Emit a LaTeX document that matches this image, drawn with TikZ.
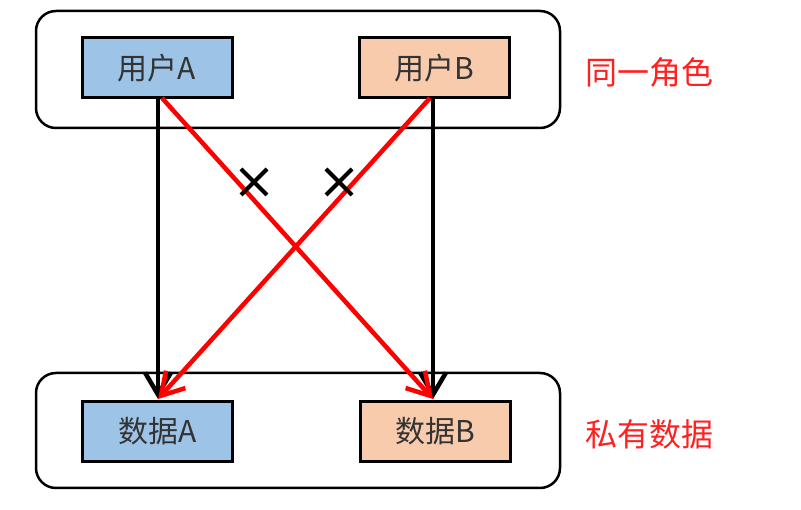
\documentclass[tikz,border=0pt]{standalone}
\usepackage{fontspec}
\setmainfont{Noto Sans CJK SC}
\usetikzlibrary{arrows.meta,calc}
\definecolor{boxblue}{HTML}{9DC3E6}
\definecolor{boxorange}{HTML}{F8CBAD}
\definecolor{txtgray}{HTML}{333333}
\definecolor{lblred}{HTML}{FF2020}
\tikzset{
  group/.style={draw=black, line width=2.5pt, rounded corners=20pt},
  itembox/.style={draw=black, line width=3pt, minimum width=150pt, minimum height=60pt,
    inner sep=0pt, font=\fontsize{30}{30}\selectfont, text=txtgray},
  access/.style={line width=4.5pt, -{Straight Barb[length=22pt,width=26pt,line width=4.5pt]}},
  denied/.style={access, draw=red},
  sidelabel/.style={text=lblred, font=\fontsize{32}{32}\selectfont, anchor=west},
  cross/.style={line width=4pt}
}
\begin{document}
\begin{tikzpicture}[x=1pt,y=-1pt]
  \useasboundingbox (0,0) rectangle (801,510);
  % role group and private-data group
  \draw[group] (36,11) rectangle (560,128);
  \draw[group] (36,373) rectangle (560,488);
  % users
  \node[itembox, fill=boxblue] (ua) at (157,68) {用户A};
  \node[itembox, fill=boxorange] (ub) at (434.5,68) {用户B};
  % private data
  \node[itembox, fill=boxblue] (da) at (157.5,431.5) {数据A};
  \node[itembox, fill=boxorange] (db) at (435,431.5) {数据B};
  % side labels
  \node[sidelabel] (l1) at (582,72) {同一角色};
  \node[sidelabel] (l2) at (582,434) {私有数据};
  % allowed access
  \coordinate (ua0) at (158,98);
  \coordinate (ub0) at (433,98);
  \coordinate (daT) at (158,399);
  \coordinate (dbT) at (433,399);
  \draw[access] (ua0) -- (daT);
  \draw[access] (ub0) -- (dbT);
  % denied cross access
  \coordinate (ua1) at (162,98);
  \coordinate (ub1) at (430,98);
  \draw[denied] (ua1) -- (dbT);
  \draw[denied] (ub1) -- (daT);
  % cross marks
  \coordinate (x1) at (254,182);
  \coordinate (x2) at (339,182);
  \draw[cross] ($(x1)+(-13,-13)$) -- ($(x1)+(13,13)$) ($(x1)+(-13,13)$) -- ($(x1)+(13,-13)$);
  \draw[cross] ($(x2)+(-13,-13)$) -- ($(x2)+(13,13)$) ($(x2)+(-13,13)$) -- ($(x2)+(13,-13)$);
\end{tikzpicture}
\end{document}
